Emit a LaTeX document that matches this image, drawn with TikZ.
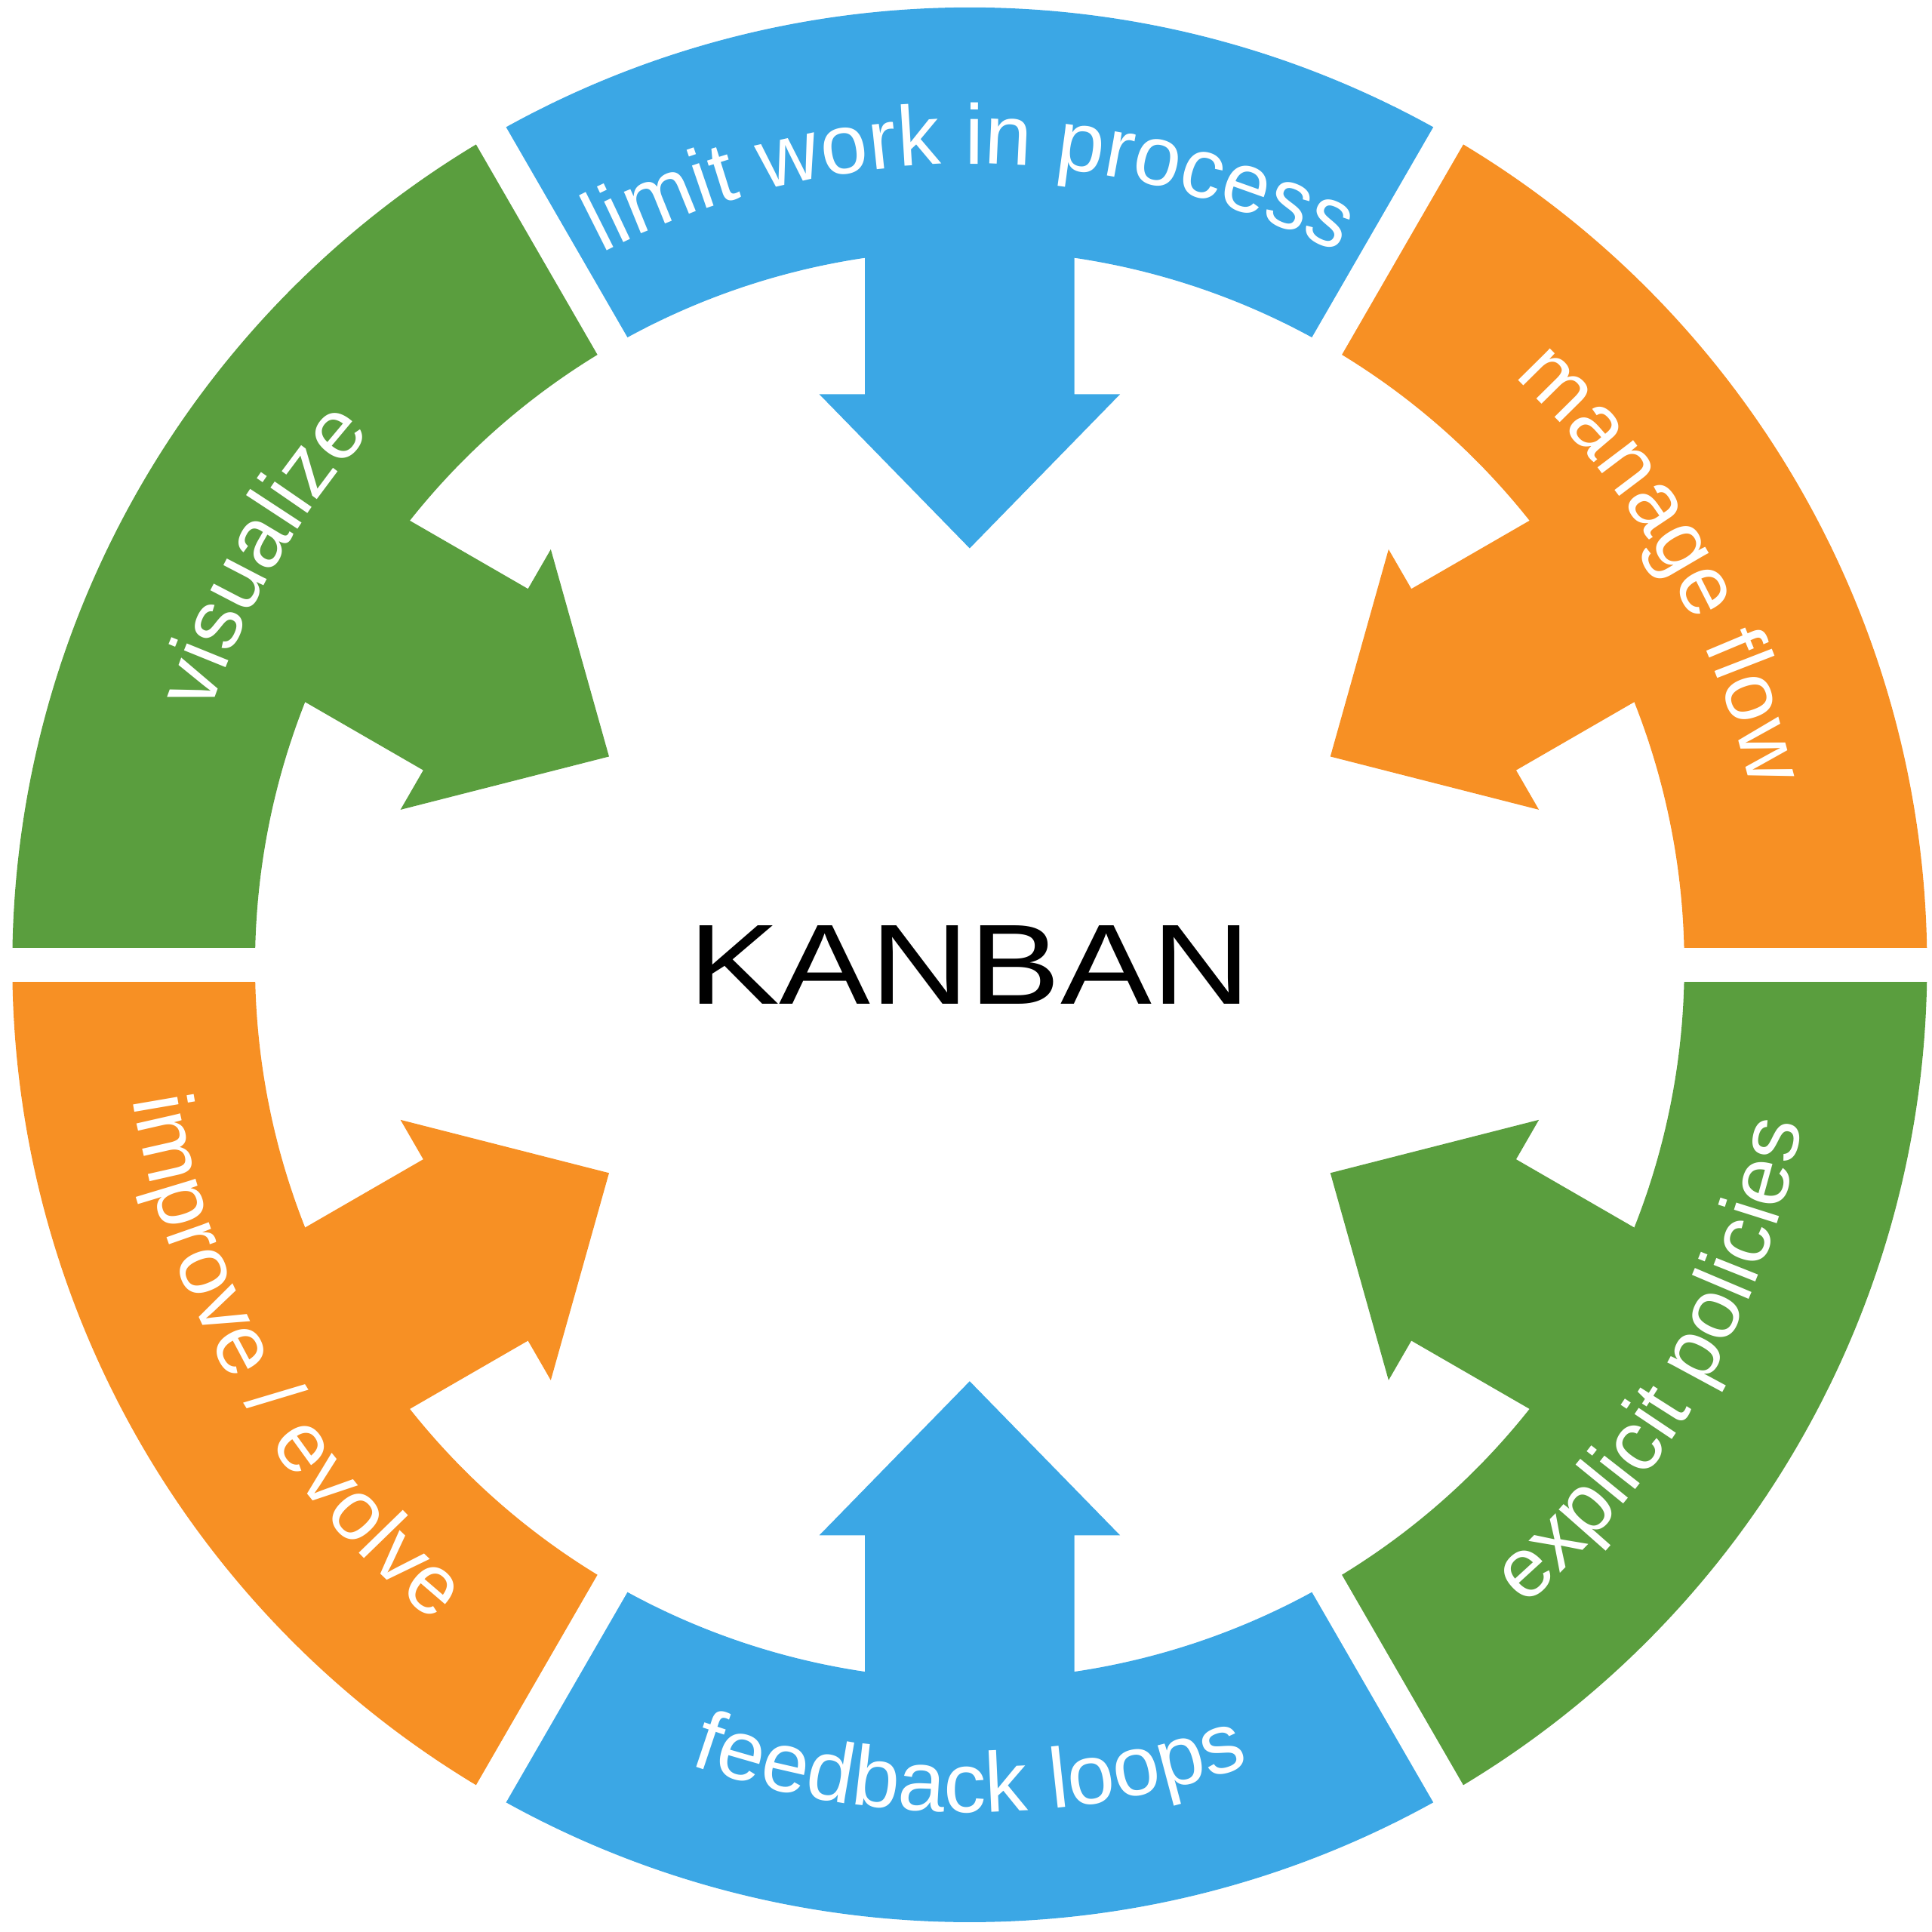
\documentclass[tikz,border=0pt]{standalone}
\usepackage{fontspec}
\setmainfont{Liberation Sans}
\usetikzlibrary{decorations.text}
\definecolor{kblue}{HTML}{3BA7E5}
\definecolor{kgreen}{HTML}{5A9E3E}
\definecolor{korange}{HTML}{F79024}
\begin{document}
\begin{tikzpicture}[x=0.016327cm,y=0.016327cm]
\useasboundingbox (-787,-785) rectangle (781,783);
\tikzset{
  gapline/.style={white,line width=13}
}
% ring segments and arrows
\foreach \a/\c in {0/korange,60/kblue,120/kgreen,180/korange,240/kblue,300/kgreen}{
  \pgfmathsetmacro{\b}{\a+60}
  \pgfmathsetmacro{\m}{\a+30}
  \fill[\c] (\a:777) arc[start angle=\a,end angle=\b,radius=777] -- (\b:580) arc[start angle=\b,end angle=\a,radius=580] -- cycle;
  \fill[\c,rotate=\m] (600,85) -- (463,85) -- (463,122) -- (338,0) -- (463,-122) -- (463,-85) -- (600,-85) -- cycle;
}
\foreach \a in {0,60,...,300}{
  \draw[gapline] (\a:560) -- (\a:800);
}
% labels, tops outward
\foreach \m/\t in {90/{limit work in process},150/{visualize},30/{manage flow}}{
  \path[decorate,decoration={text along path,text align=center,
    text={|\fontsize{32}{38}\selectfont\color{white}|\t}}]
    (\m+30:650) arc[start angle=\m+30,end angle=\m-30,radius=650];
}
% labels, tops inward
\foreach \m/\t in {270/{feedback loops},210/{improve / evolve},330/{explicit policies}}{
  \path[decorate,decoration={text along path,text align=center,
    text={|\fontsize{32}{38}\selectfont\color{white}|\t}}]
    (\m-30:688) arc[start angle=\m-30,end angle=\m+30,radius=688];
}
\node[font=\fontsize{43}{50}\selectfont,xscale=1.2] (k) at (0,0) {KANBAN};
\end{tikzpicture}
\end{document}
